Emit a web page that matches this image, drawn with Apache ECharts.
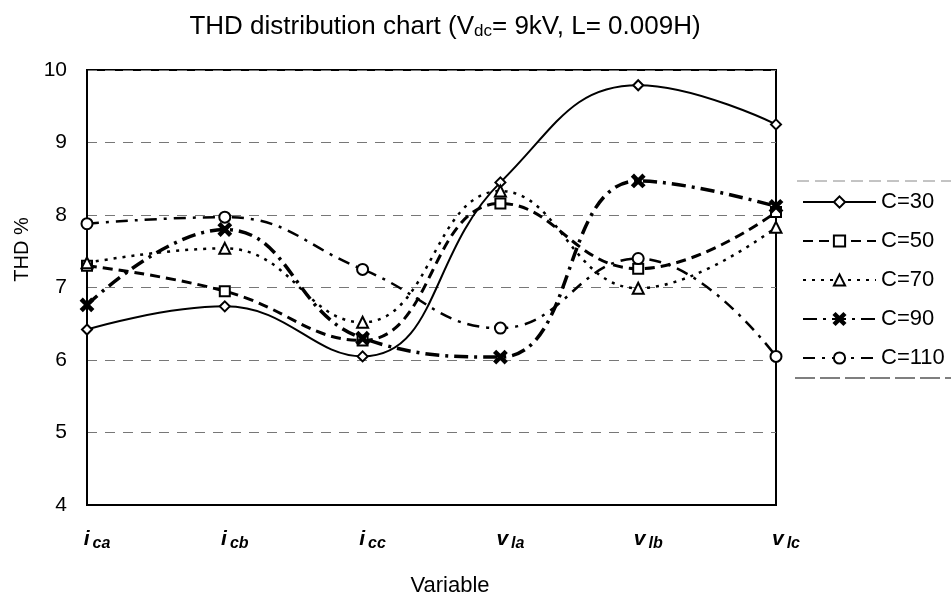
<!DOCTYPE html>
<html>
<head>
<meta charset="utf-8">
<script src="https://cdn.jsdelivr.net/npm/echarts@6/dist/echarts.min.js"></script>
<style>
html,body{margin:0;padding:0;background:#fff;}
#chart{width:951px;height:602px;}
</style>
</head>
<body>
<div id="chart"></div>
<script>
var categories = ['i_ca', 'i_cb', 'i_cc', 'v_la', 'v_lb', 'v_lc'];
var seriesNames = ['C=30', 'C=50', 'C=70', 'C=90', 'C=110'];
var c30  = [6.42, 6.74, 6.05, 8.45, 9.79, 9.25];
var c50  = [7.30, 6.95, 6.27, 8.16, 7.26, 8.04];
var c70  = [7.34, 7.54, 6.52, 8.33, 6.99, 7.83];
var c90  = [6.76, 7.80, 6.30, 6.04, 8.47, 8.12];
var c110 = [7.88, 7.97, 7.25, 6.44, 7.40, 6.05];
var yTicks = [4, 5, 6, 7, 8, 9, 10];

var FONT = '"Liberation Sans", Arial, sans-serif';
var xPath = 'path://M0,1.5L1.5,0L5,3.5L8.5,0L10,1.5L6.5,5L10,8.5L8.5,10L5,6.5L1.5,10L0,8.5L3.5,5Z';

var styles = [
  {symbol: 'diamond', size: 10, dash: 'solid', width: 2, fill: '#fff'},
  {symbol: 'rect', size: 10, dash: [10, 6], width: 3, fill: '#fff'},
  {symbol: 'triangle', size: 11, dash: [3, 6], width: 2.5, fill: '#fff'},
  {symbol: xPath, size: 12, dash: [14, 6, 3, 6], width: 3.5, fill: '#000'},
  {symbol: 'circle', size: 11, dash: [12, 7, 3, 7], width: 2.5, fill: '#fff'}
];
var dataSets = [c30, c50, c70, c90, c110];

var series = seriesNames.map(function (n, i) {
  var s = styles[i];
  return {
    name: n,
    type: 'line',
    data: dataSets[i],
    smooth: 0.45,
    symbol: s.symbol,
    symbolSize: s.size,
    showAllSymbol: true,
    lineStyle: {color: '#000', width: s.width, type: s.dash},
    itemStyle: {color: s.fill, borderColor: '#000', borderWidth: 2},
    z: 3 + i
  };
});

var chart = echarts.init(document.getElementById('chart'), null, {renderer: 'canvas'});
chart.setOption({
  backgroundColor: '#fff',
  animation: false,
  textStyle: {fontFamily: FONT, color: '#000'},
  title: {
    text: 'THD distribution chart (V{s|dc}= 9kV, L= 0.009H)',
    left: 440,
    textAlign: 'center',
    top: 8,
    textStyle: {
      fontFamily: FONT, fontSize: 26, fontWeight: 'normal', color: '#000',
      rich: {s: {fontFamily: FONT, fontSize: 17, color: '#000', padding: [10, 0, 0, 0]}}
    }
  },
  grid: {left: 87, right: 175, top: 70, bottom: 95, show: true, borderColor: '#000', borderWidth: 2, backgroundColor: 'transparent'},
  legend: {
    orient: 'vertical',
    left: 797,
    top: 186,
    itemWidth: 73,
    itemHeight: 14,
    itemGap: 17,
    textStyle: {fontFamily: FONT, fontSize: 22, color: '#000'},
    data: seriesNames
  },
  xAxis: {
    type: 'category',
    data: categories,
    boundaryGap: false,
    name: 'Variable',
    nameLocation: 'middle',
    nameGap: 70,
    nameTextStyle: {fontFamily: FONT, fontSize: 22, color: '#000', padding: [0, 0, 0, 37]},
    axisLine: {lineStyle: {color: '#000', width: 2}},
    axisTick: {show: false},
    axisLabel: {
      margin: 22,
      padding: [0, 0, 0, 20],
      formatter: function (v) {
        var p = v.split('_');
        return '{m|' + p[0] + '}{s|' + p[1] + '}';
      },
      rich: {
        m: {fontFamily: FONT, fontSize: 21, fontStyle: 'italic', fontWeight: 'bold', color: '#000'},
        s: {fontFamily: FONT, fontSize: 16, fontStyle: 'italic', fontWeight: 'bold', color: '#000', padding: [9, 0, 0, 3]}
      }
    },
    splitLine: {show: false}
  },
  yAxis: {
    type: 'value',
    min: 4,
    max: 10,
    interval: 1,
    name: 'THD %',
    nameLocation: 'middle',
    nameGap: 46,
    nameRotate: 90,
    nameTextStyle: {fontFamily: FONT, fontSize: 20, color: '#000', padding: [0, 0, 0, 76]},
    axisLine: {show: true, lineStyle: {color: '#000', width: 2}},
    axisTick: {show: false},
    axisLabel: {
      margin: 20,
      fontFamily: FONT, fontSize: 21, color: '#000',
      formatter: function (v) { return yTicks.indexOf(v) >= 0 ? String(v) : ''; }
    },
    splitLine: {show: true, lineStyle: {color: '#777', width: 1, type: [10, 8]}}
  },
  graphic: [
    {type: 'line', shape: {x1: 797, y1: 181, x2: 951, y2: 181}, style: {stroke: '#888', lineWidth: 1, lineDash: [12, 6]}},
    {type: 'line', shape: {x1: 795, y1: 378, x2: 951, y2: 378}, style: {stroke: '#555', lineWidth: 1.5, lineDash: [20, 5]}}
  ],
  series: series
});
</script>
</body>
</html>
